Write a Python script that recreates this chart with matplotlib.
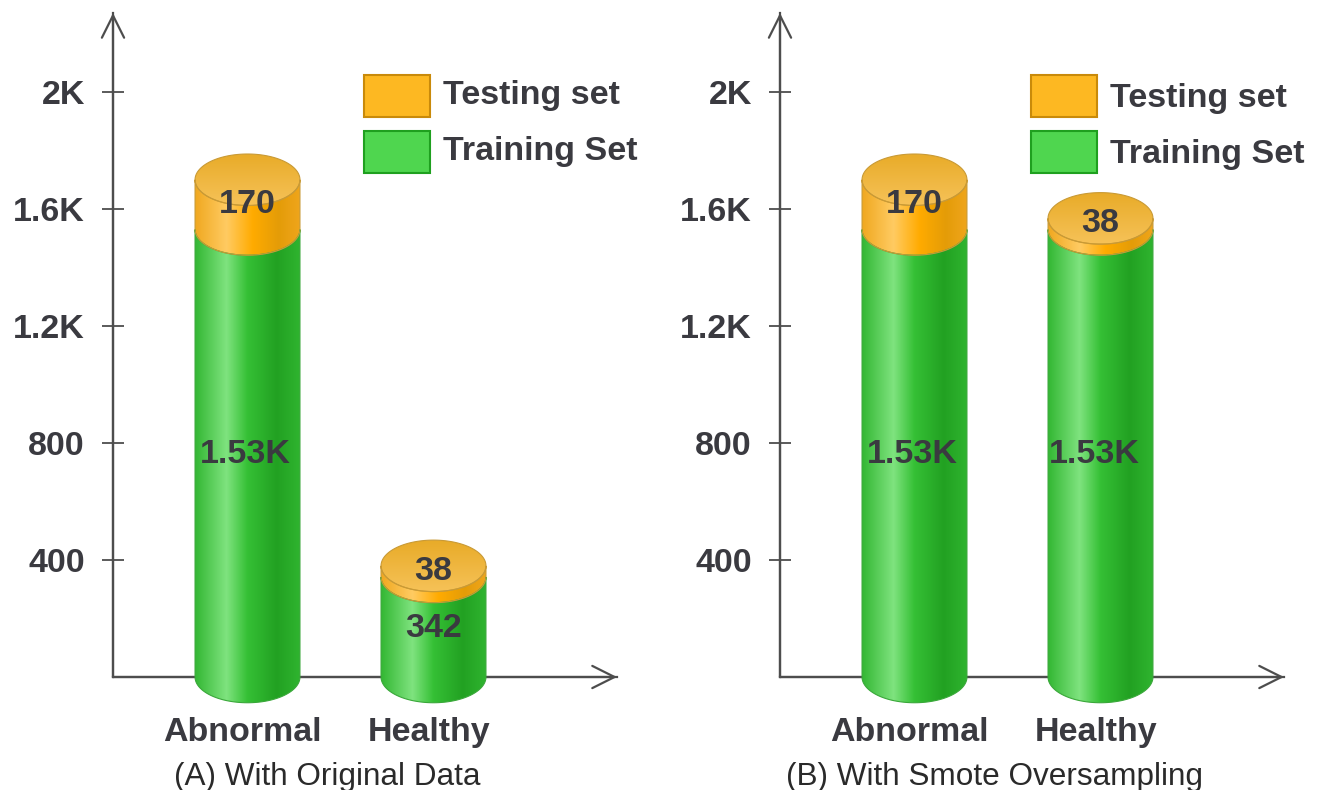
import numpy as np
import matplotlib
matplotlib.use("Agg")
import matplotlib.pyplot as plt
from matplotlib.colors import LinearSegmentedColormap
from matplotlib.patches import Patch, PathPatch
from matplotlib.path import Path
from matplotlib.transforms import ScaledTranslation

categories = ["Abnormal", "Healthy"]
training_original = [1530, 342]
testing_original = [170, 38]
training_smote = [1530, 1530]
testing_smote = [170, 38]
y_ticks = [400, 800, 1200, 1600, 2000]
y_tick_labels = ["400", "800", "1.2K", "1.6K", "2K"]
captions = ["(A) With Original Data", "(B) With Smote Oversampling"]

W, H = 1324, 790
TEXT = "#3a3a40"
AXIS = "#4d4d4d"
HALF_WIDTH = 0.282
RY = 88  # half height of the cylinder ellipses in data units
FONT = 24.5

plt.rcParams["font.family"] = ["Liberation Sans", "DejaVu Sans"]

green_side = LinearSegmentedColormap.from_list(
    "green_side", [(0, "#33b733"), (0.3, "#7fe37f"), (0.5, "#35c035"), (0.78, "#22a122"), (1, "#2fb42f")])
orange_side = LinearSegmentedColormap.from_list(
    "orange_side", [(0, "#f0a820"), (0.3, "#ffcb62"), (0.55, "#ffab00"), (0.8, "#e49c08"), (1, "#efa51c")])
orange_top = LinearSegmentedColormap.from_list("orange_top", ["#e8ab28", "#f6c258"])


def label(value):
    if value >= 1000:
        return f"{value / 1000:.2f}K"
    return str(value)


def gradient(ax, path, cmap, extent, vertical=False, edge="none"):
    grad = np.linspace(0, 1, 256)
    grad = grad.reshape(-1, 1) if vertical else grad.reshape(1, -1)
    patch = PathPatch(path, facecolor="none", edgecolor=edge, linewidth=0.8, zorder=4, clip_on=False)
    ax.add_patch(patch)
    im = ax.imshow(grad, cmap=cmap, extent=extent, aspect="auto", origin="upper", zorder=3)
    im.set_clip_path(patch)
    im.set_clip_box(ax.figure.bbox)


def side_path(c, low, high):
    t = np.linspace(0, np.pi, 80)
    xs = c + HALF_WIDTH * np.cos(t)
    front = RY * np.sin(t)
    verts = np.concatenate([np.c_[xs, low - front], np.c_[xs[::-1], high - front[::-1]]])
    return Path(np.vstack([verts, verts[0]]), closed=True)


def top_path(c, y):
    t = np.linspace(0, 2 * np.pi, 160)
    return Path(np.c_[c + HALF_WIDTH * np.cos(t), y + RY * np.sin(t)], closed=True)


def cylinder(ax, c, train, test):
    total = train + test
    extent = [c - HALF_WIDTH, c + HALF_WIDTH, -RY, total + RY]
    gradient(ax, side_path(c, 0, train), green_side, extent, edge="#3aa83a")
    gradient(ax, side_path(c, train, total), orange_side, extent, edge="#c99a35")
    gradient(ax, top_path(c, total), orange_top,
             [c - HALF_WIDTH, c + HALF_WIDTH, total - RY, total + RY], vertical=True, edge="#c99a35")
    # the wide K labels sit a little left of the cylinder axis
    dx = 0
    if train >= 1000:
        dx = -0.032 if c == 1 else -0.012
    ax.text(c + dx, train / 2 - 5, label(train), ha="center", va="center", fontsize=FONT,
            fontweight="bold", color=TEXT, zorder=5)
    ax.text(c, train + test / 2, label(test), ha="center", va="center", fontsize=FONT,
            fontweight="bold", color=TEXT, zorder=5)


def panel(left, train, test, text_lift, caption, caption_x):
    ax = fig.add_axes([left / W, (H - 677) / H, 504 / W, 664 / H])
    ax.set_xlim(-134.5 / 186, 369.5 / 186)
    ax.set_ylim(0, 664 / 0.2925)
    for s in ["top", "right"]:
        ax.spines[s].set_visible(False)
    for s in ["left", "bottom"]:
        ax.spines[s].set_color(AXIS)
        ax.spines[s].set_linewidth(1.6)

    ax.set_yticks(y_ticks, y_tick_labels)
    ax.tick_params(axis="y", direction="inout", length=16.5, width=1.3, color=AXIS, pad=12,
                   labelsize=FONT, labelcolor=TEXT)
    for t in ax.get_yticklabels():
        t.set_fontweight("bold")
    ax.set_xticks(range(len(categories)), categories)
    ax.tick_params(axis="x", length=0, pad=28.5, labelsize=FONT, labelcolor=TEXT)
    shift = ScaledTranslation(-3.5 / 72, 0, fig.dpi_scale_trans)
    for t in ax.get_xticklabels():
        t.set_fontweight("bold")
        t.set_transform(t.get_transform() + shift)

    arrow = dict(arrowstyle="->,head_length=16,head_width=8", color=AXIS, lw=1.6,
                 shrinkA=0, shrinkB=0, mutation_scale=1)
    ax.annotate("", xy=(1, 0), xytext=(0, 0), xycoords="axes fraction", arrowprops=arrow, zorder=1)
    ax.annotate("", xy=(0, 1), xytext=(0, 0), xycoords="axes fraction", arrowprops=arrow, zorder=1)

    for i in range(len(categories)):
        cylinder(ax, i, train[i], test[i])
    ax.set_xlim(-134.5 / 186, 369.5 / 186)
    ax.set_ylim(0, 664 / 0.2925)

    handles = [Patch(facecolor="#fdb822", edgecolor="#c98a0a", linewidth=1.5, label="Testing set"),
               Patch(facecolor="#4fd64f", edgecolor="#1fa01f", linewidth=1.5, label="Training Set")]
    leg = ax.legend(handles=handles, loc="upper left", frameon=False, fontsize=FONT,
                    bbox_to_anchor=((left + 251) / W, 1 - 75 / H), bbox_transform=fig.transFigure,
                    borderaxespad=0, borderpad=0, handlelength=1.94, handleheight=1.52,
                    handletextpad=0.38, labelspacing=0.4)
    lift = ScaledTranslation(0, text_lift / 100, fig.dpi_scale_trans)
    for t in leg.get_texts():
        t.set_fontweight("bold")
        t.set_color(TEXT)
        t.set_transform(t.get_transform() + lift)

    fig.text(caption_x / W, 1 - 776.5 / H, caption, ha="center", va="center", fontsize=22.7, color="#2a2a2a")


fig = plt.figure(figsize=(W / 100, H / 100), dpi=100)
panel(113, training_original, testing_original, 3, captions[0], 327.5)
panel(780, training_smote, testing_smote, 0, captions[1], 994.5)
fig.savefig("out.png", dpi=100)
